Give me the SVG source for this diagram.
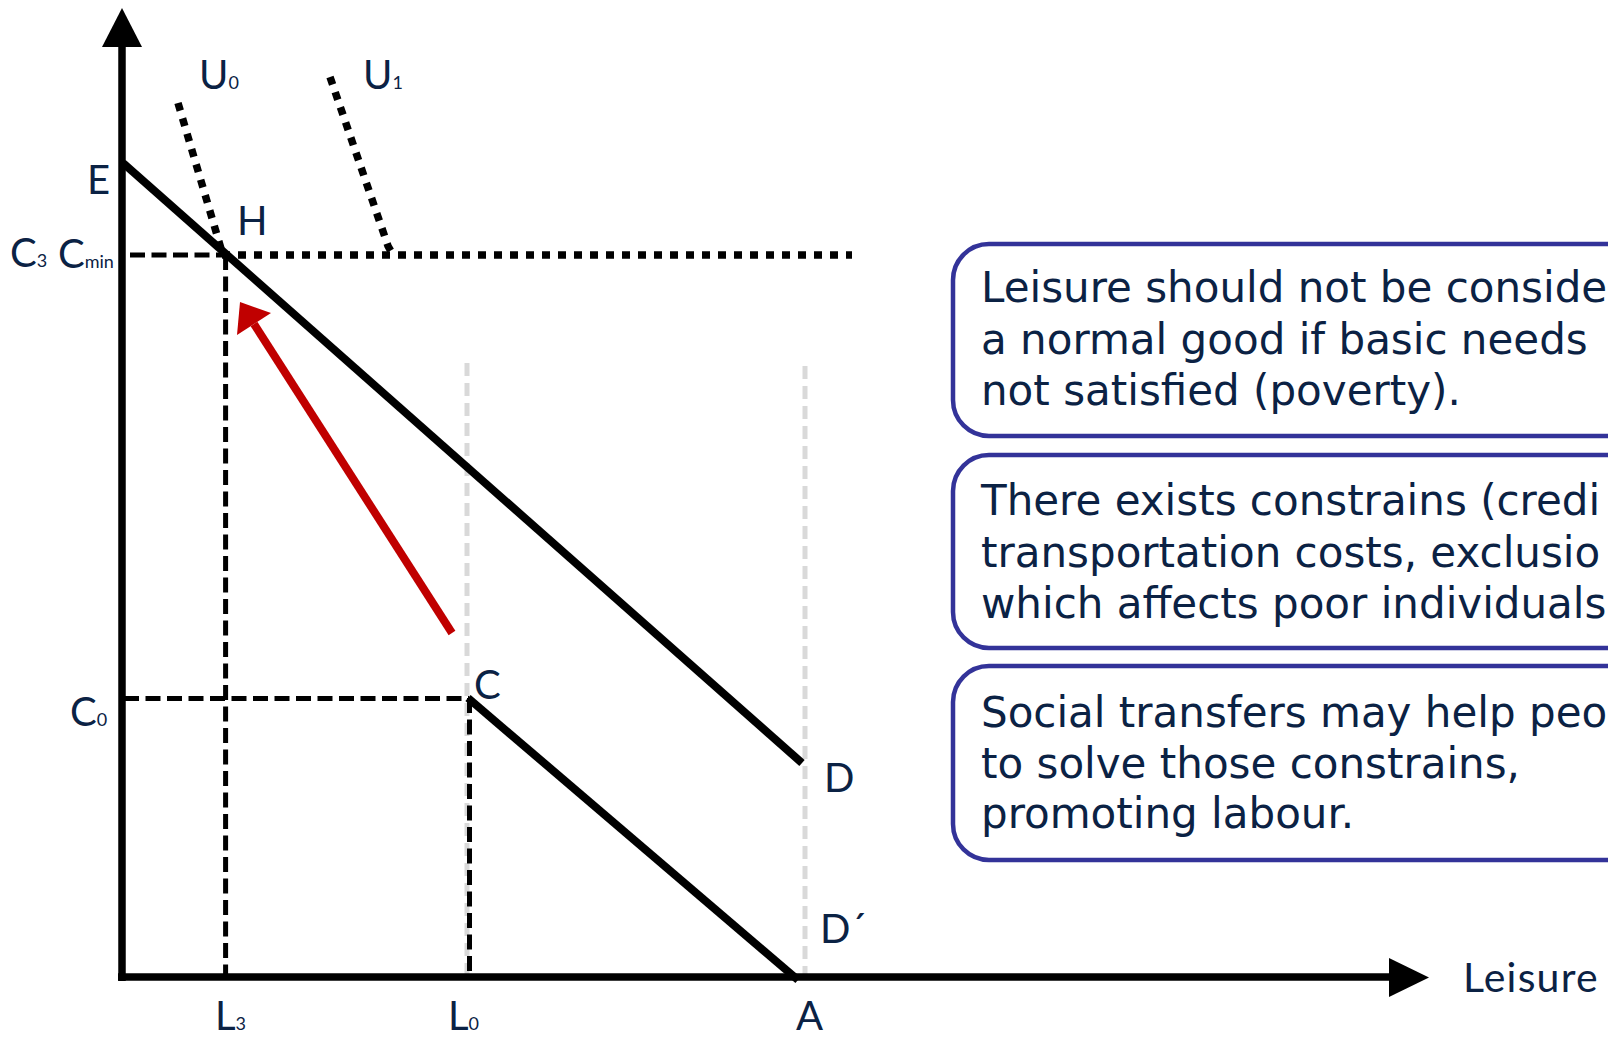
<svg xmlns="http://www.w3.org/2000/svg" width="1608" height="1038" viewBox="0 0 1608 1038">
<style>
.lbl{font-family:Lato,"Open Sans","Liberation Sans",sans-serif;font-size:40px;fill:#0b2244}
.sub{font-size:18px}
.box{fill:#ffffff;stroke:#333399;stroke-width:4.5}
.bt{font-family:"DejaVu Sans",Verdana,sans-serif;font-size:42px;fill:#0b2244}
.ax{stroke:#000;stroke-width:7.5;fill:none}
.bl{stroke:#000;stroke-width:8;fill:none}
.dash{stroke:#000;stroke-width:5;stroke-dasharray:15 6.5;fill:none}
.dot{stroke:#000;stroke-width:7.5;stroke-dasharray:8 8;fill:none}
.grey{stroke:#d9d9d9;stroke-width:5;stroke-dasharray:13 7;fill:none}
</style>
<rect x="0" y="0" width="1608" height="1038" fill="#ffffff"/>
<g id="connectors">
  <line class="grey" x1="467" y1="363" x2="467" y2="977"/>
  <line class="grey" x1="805" y1="366" x2="805" y2="977"/>
  <line class="dash" x1="130" y1="255" x2="222" y2="255"/>
  <line class="dash" x1="225.6" y1="255" x2="225.6" y2="977"/>
  <line class="dash" x1="124" y1="698.5" x2="469" y2="698.5"/>
  <line class="dash" x1="469.5" y1="698" x2="469.5" y2="977"/>
  <line class="dot" x1="222" y1="255" x2="852" y2="255"/>
  <line class="dot" x1="178" y1="103" x2="222" y2="252"/>
  <path class="dot" d="M330,77 L388,246 L393,255"/>
  <line class="ax" x1="122" y1="981" x2="122" y2="44"/>
  <polygon points="102,47 142,47 122,8" fill="#000"/>
  <line class="ax" x1="118" y1="977" x2="1392" y2="977"/>
  <polygon points="1389,958 1389,997 1429,977.5" fill="#000"/>
  <line class="bl" x1="123" y1="163" x2="802" y2="763"/>
  <line class="bl" x1="468" y1="698" x2="798" y2="980"/>
  <line stroke="#c00000" stroke-width="8" x1="452" y1="633" x2="254" y2="324"/>
  <polygon points="240,302 271,313 237,335" fill="#c00000"/>
</g>
<g id="labels">
  <text class="lbl" x="199" y="89">U<tspan class="sub">0</tspan></text>
  <text class="lbl" x="363" y="89">U<tspan class="sub">1</tspan></text>
  <text class="lbl" x="87" y="194">E</text>
  <text class="lbl" x="237" y="235">H</text>
  <text class="lbl" x="10" y="267">C<tspan class="sub">3</tspan></text>
  <text class="lbl" x="58" y="268">C<tspan class="sub">min</tspan></text>
  <text class="lbl" x="70" y="726">C<tspan class="sub">0</tspan></text>
  <text class="lbl" x="474" y="699">C</text>
  <text class="lbl" x="824" y="792">D</text>
  <text class="lbl" x="820" y="943">D´</text>
  <text class="lbl" x="796" y="1030">A</text>
  <text class="lbl" x="215" y="1030">L<tspan class="sub">3</tspan></text>
  <text class="lbl" x="448" y="1030">L<tspan class="sub">0</tspan></text>
  <text class="lbl" x="1463" y="992" style="font-size:41px;letter-spacing:1.2px">Leisure</text>
</g>
<g id="box1">
  <rect class="box" x="953" y="244" width="720" height="192" rx="36"/>
  <text class="bt" x="981" y="302">Leisure should not be conside</text>
  <text class="bt" x="981" y="354">a normal good if basic needs</text>
  <text class="bt" x="981" y="405">not satisfied (poverty).</text>
</g>
<g id="box2">
  <rect class="box" x="953" y="455" width="720" height="193" rx="36"/>
  <text class="bt" x="981" y="515">There exists constrains (credi</text>
  <text class="bt" x="981" y="567">transportation costs, exclusio</text>
  <text class="bt" x="981" y="618">which affects poor individuals</text>
</g>
<g id="box3">
  <rect class="box" x="953" y="666" width="720" height="194" rx="36"/>
  <text class="bt" x="981" y="727">Social transfers may help peo</text>
  <text class="bt" x="981" y="778">to solve those constrains,</text>
  <text class="bt" x="981" y="828">promoting labour.</text>
</g>
</svg>
